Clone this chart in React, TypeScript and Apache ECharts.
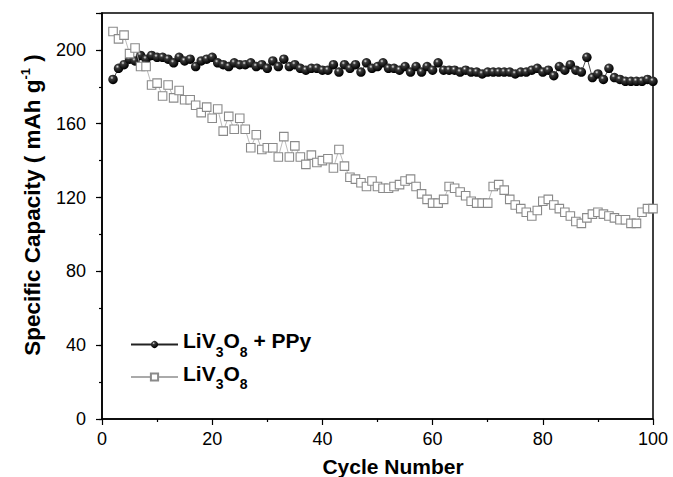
import React, { useEffect, useRef } from 'react';
import * as echarts from 'echarts';

const cycles = [
  2, 3, 4, 5, 6, 7, 8, 9, 10, 11, 12, 13, 14, 15, 16, 17, 18, 19, 20,
  21, 22, 23, 24, 25, 26, 27, 28, 29, 30, 31, 32, 33, 34, 35, 36, 37, 38, 39, 40,
  41, 42, 43, 44, 45, 46, 47, 48, 49, 50, 51, 52, 53, 54, 55, 56, 57, 58, 59, 60,
  61, 62, 63, 64, 65, 66, 67, 68, 69, 70, 71, 72, 73, 74, 75, 76, 77, 78, 79, 80,
  81, 82, 83, 84, 85, 86, 87, 88, 89, 90, 91, 92, 93, 94, 95, 96, 97, 98, 99, 100,
];

const ppyCapacity = [
  184, 190, 192, 195, 194, 197, 195, 197, 196, 196, 195, 193, 196, 194, 195, 191, 194, 195, 196,
  193, 192, 191, 193, 192, 192, 193, 191, 192, 190, 194, 191, 195, 191, 192, 190, 189, 190, 190, 189,
  189, 192, 188, 192, 190, 192, 188, 193, 190, 191, 193, 190, 190, 189, 191, 188, 191, 188, 191, 189,
  193, 189, 189, 189, 188, 189, 188, 188, 187, 188, 188, 188, 188, 188, 187, 188, 188, 189, 190, 188,
  189, 186, 191, 189, 192, 189, 188, 196, 185, 187, 184, 190, 185, 184, 183, 183, 183, 183, 184, 183,
];

const livoCapacity = [
  210, 206, 208, 198, 201, 191, 191, 181, 182, 175, 181, 174, 178, 173, 173, 170, 166, 169, 163,
  168, 156, 164, 157, 163, 157, 147, 154, 146, 147, 147, 142, 153, 142, 148, 142, 138, 143, 139, 140,
  141, 136, 146, 137, 131, 130, 128, 126, 129, 126, 125, 125, 126, 127, 129, 130, 126, 122, 119, 117,
  117, 119, 126, 125, 123, 121, 118, 117, 117, 117, 126, 127, 124, 119, 116, 114, 112, 110, 113, 118,
  119, 116, 114, 112, 110, 107, 106, 109, 111, 112, 111, 110, 109, 108, 108, 106, 106, 112, 114, 114,
];

const yTickLabels = [0, 40, 80, 120, 160, 200];

const seriesNames = ['LiV3O8 + PPy', 'LiV3O8'];

export default function App() {
  const ref = useRef<HTMLDivElement>(null);

  useEffect(() => {
    if (!ref.current) return;
    const chart = echarts.init(ref.current, null, { renderer: 'svg' });
    const font = '"Liberation Sans", Arial, Helvetica, sans-serif';

    const sphere = new echarts.graphic.RadialGradient(0.38, 0.32, 0.65, [
      { offset: 0, color: '#e8e8e8' },
      { offset: 0.28, color: '#3a3a3a' },
      { offset: 1, color: '#000000' },
    ]);

    const axisLineStyle = { color: '#000', width: 1.6 };

    chart.setOption({
      animation: false,
      backgroundColor: '#fff',
      grid: {
        left: 102,
        right: 20,
        top: 13,
        bottom: 58,
        show: true,
        borderColor: '#000',
        borderWidth: 1.5,
        backgroundColor: 'transparent',
      },
      xAxis: {
        type: 'value',
        min: 0,
        max: 100,
        interval: 20,
        axisLine: { show: true, onZero: false, lineStyle: axisLineStyle },
        axisTick: { show: true, inside: false, length: 6, lineStyle: { color: '#000', width: 1.2 } },
        minorTick: { show: true, splitNumber: 2, length: 3, lineStyle: { color: '#000', width: 1.2 } },
        splitLine: { show: false },
        minorSplitLine: { show: false },
        axisLabel: { fontSize: 18, color: '#000', fontFamily: font, margin: 11 },
      },
      yAxis: [
        {
          type: 'value',
          min: 0,
          max: 220,
          interval: 40,
          axisLine: { show: true, onZero: false, lineStyle: axisLineStyle },
          axisTick: { show: true, inside: false, length: 6, lineStyle: { color: '#000', width: 1.2 } },
          splitLine: { show: false },
          axisLabel: {
            fontSize: 18,
            color: '#000',
            fontFamily: font,
            margin: 16,
            formatter: (v: number) => (yTickLabels.includes(v) ? String(v) : ''),
          },
        },
        {
          type: 'value',
          min: 0,
          max: 220,
          interval: 20,
          position: 'left',
          axisLine: { show: false },
          axisTick: { show: true, inside: false, length: 3, lineStyle: { color: '#000', width: 1.2 } },
          splitLine: { show: false },
          axisLabel: { show: false },
        },
      ],
      legend: {
        orient: 'vertical',
        left: 125,
        top: 325,
        itemWidth: 47,
        itemHeight: 9,
        itemGap: 4,
        data: seriesNames,
        formatter: (name: string) =>
          name === seriesNames[0]
            ? '{b|LiV}{s|3}{b|O}{s|8}{b| + PPy}'
            : '{b|LiV}{s|3}{b|O}{s|8}',
        textStyle: {
          fontFamily: font,
          fontWeight: 'bold',
          fontSize: 21,
          color: '#000',
          rich: {
            b: { fontFamily: font, fontWeight: 'bold', fontSize: 21, color: '#000', padding: [0, 0, 8, 0] },
            s: { fontFamily: font, fontWeight: 'bold', fontSize: 14, color: '#000', padding: [14, 0, 0, 0] },
          },
        },
      },
      graphic: [
        {
          type: 'text',
          x: 393,
          y: 466,
          style: {
            text: 'Cycle Number',
            fontFamily: font,
            fontWeight: 'bold',
            fontSize: 21,
            fill: '#000',
            align: 'center',
            verticalAlign: 'middle',
          },
        },
        {
          type: 'text',
          x: 32,
          y: 205,
          rotation: Math.PI / 2,
          style: {
            text: '{b|Specific Capacity ( mAh g}{p|-1}{b| )}',
            fontFamily: font,
            fontWeight: 'bold',
            fontSize: 22.5,
            fill: '#000',
            align: 'center',
            verticalAlign: 'middle',
            rich: {
              b: { fontFamily: font, fontWeight: 'bold', fontSize: 22.5, fill: '#000' },
              p: { fontFamily: font, fontWeight: 'bold', fontSize: 13, fill: '#000', padding: [0, 0, 14, 0] },
            },
          },
        },
      ],
      series: [
        {
          name: seriesNames[0],
          type: 'line',
          yAxisIndex: 0,
          data: cycles.map((c, i) => [c, ppyCapacity[i]]),
          symbol: 'circle',
          symbolSize: 9.5,
          showAllSymbol: true,
          lineStyle: { color: '#222', width: 0.8 },
          itemStyle: { color: sphere, borderWidth: 0 },
          z: 2,
        },
        {
          name: seriesNames[1],
          type: 'line',
          yAxisIndex: 0,
          data: cycles.map((c, i) => [c, livoCapacity[i]]),
          symbol: 'rect',
          symbolSize: 8.5,
          showAllSymbol: true,
          lineStyle: { color: '#aaa', width: 0.8 },
          itemStyle: { color: '#fff', borderColor: '#8a8a8a', borderWidth: 1.1 },
          z: 3,
        },
      ],
    });

    return () => chart.dispose();
  }, []);

  return (
    <div
      ref={ref}
      style={{ position: 'fixed', left: 0, top: 0, width: 673, height: 477, background: '#fff' }}
    />
  );
}
